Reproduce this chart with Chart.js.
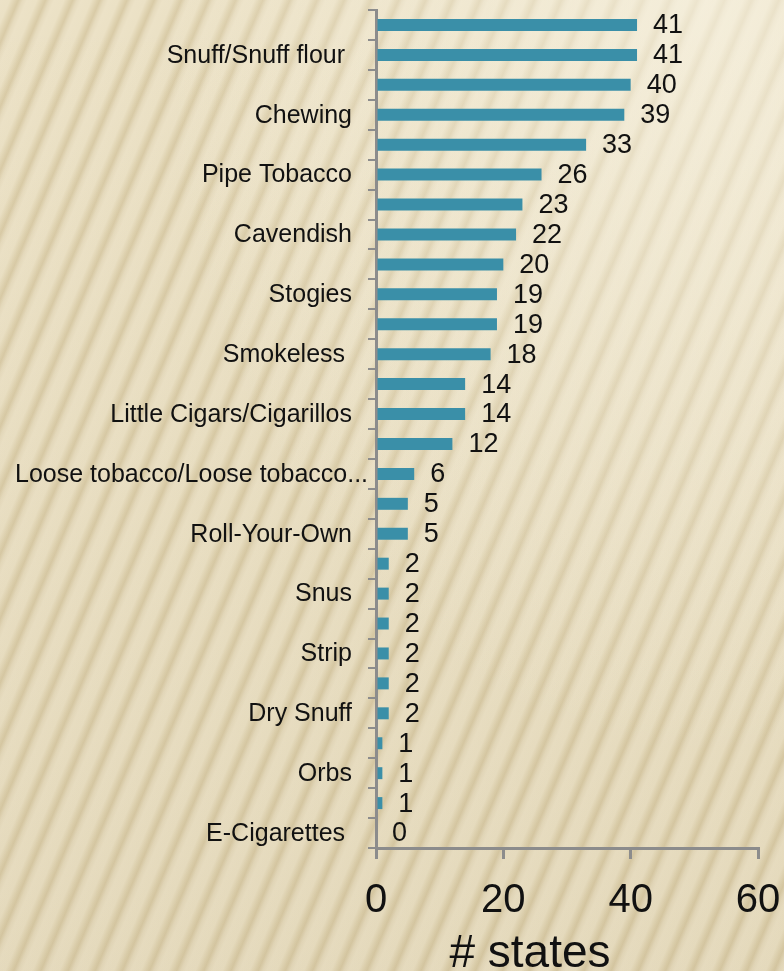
<!DOCTYPE html>
<html>
<head>
<meta charset="utf-8">
<script src="https://cdn.jsdelivr.net/npm/chart.js@4"></script>
<style>
html,body{margin:0;padding:0;}
body{width:784px;height:971px;overflow:hidden;
background:
 radial-gradient(ellipse at 90% 0%, rgba(250,246,232,0.6), rgba(250,246,232,0) 55%),
 linear-gradient(180deg, rgba(0,0,0,0) 0%, rgba(120,95,40,0.06) 100%),
 repeating-linear-gradient(113deg, #ece2c7 0px, #ebe1c5 9px, #ddd0ad 15px, #d9cba7 17px, #e6dbbe 21px, #ece2c7 25px);
}
#wrap{position:absolute;left:0;top:0;width:784px;height:971px;}
</style>
</head>
<body>
<div id="wrap"><canvas id="c" width="784" height="971"></canvas></div>
<script>
const categories = ["", "Snuff/Snuff flour ", "", "Chewing", "", "Pipe Tobacco", "", "Cavendish", "", "Stogies", "", "Smokeless ", "", "Little Cigars/Cigarillos", "", "Loose tobacco/Loose tobacco...", "", "Roll-Your-Own", "", "Snus", "", "Strip", "", "Dry Snuff", "", "Orbs", "", "E-Cigarettes "];
const statesCount = [41, 41, 40, 39, 33, 26, 23, 22, 20, 19, 19, 18, 14, 14, 12, 6, 5, 5, 2, 2, 2, 2, 2, 2, 1, 1, 1, 0];
const xTicks = [0, 20, 40, 60];
const axisTitle = "# states";

const FONT = "'Liberation Sans', Arial, sans-serif";

const textPlugin = {
  id: 'textPlugin',
  afterDatasetsDraw(chart) {
    const ctx = chart.ctx;
    const meta = chart.getDatasetMeta(0);
    const yScale = chart.scales.y;
    ctx.save();
    ctx.fillStyle = "#111";
    // category labels
    ctx.font = "25px " + FONT;
    ctx.textBaseline = "middle";
    ctx.textAlign = "left";
    categories.forEach((lab, i) => {
      if (!lab) return;
      const w = ctx.measureText(lab).width;
      let right = yScale.right - 24;
      if (right - w < 15) right = Math.min(yScale.right - 4, 15 + w);
      ctx.fillText(lab, right - w, yScale.getPixelForValue(i) + 1);
    });
    // value labels
    ctx.font = "27px " + FONT;
    meta.data.forEach((bar, i) => {
      ctx.fillText(String(statesCount[i]), bar.x + 16, bar.y + 1);
    });
    // axis title
    ctx.font = "46px " + FONT;
    ctx.textAlign = "center";
    ctx.textBaseline = "alphabetic";
    ctx.fillText(axisTitle, 530, 967);
    ctx.restore();
  }
};

new Chart(document.getElementById('c'), {
  type: 'bar',
  data: {
    labels: categories,
    datasets: [{
      data: statesCount,
      backgroundColor: '#3a8fa8',
      borderWidth: 0,
      barPercentage: 0.4,
      categoryPercentage: 1.0
    }]
  },
  options: {
    indexAxis: 'y',
    responsive: false,
    animation: false,
    devicePixelRatio: 1,
    layout: { padding: { top: 10, right: 26, left: 0, bottom: 0 } },
    plugins: { legend: { display: false }, tooltip: { enabled: false } },
    scales: {
      x: {
        min: 0, max: 60,
        afterBuildTicks(scale) { scale.ticks = xTicks.map(v => ({ value: v })); },
        afterFit(scale) { scale.height = 123; scale.paddingLeft = 0; scale.paddingRight = 0; },
        border: { display: true, color: '#8c8c8c', width: 3 },
        grid: { drawOnChartArea: false, drawTicks: true, tickLength: 11, color: '#8c8c8c', lineWidth: 3 },
        ticks: { font: { size: 40, family: FONT }, color: '#111', padding: 18, maxRotation: 0 }
      },
      y: {
        afterFit(scale) { scale.width = 376; scale.paddingTop = 0; scale.paddingBottom = 0; },
        border: { display: true, color: '#8c8c8c', width: 3 },
        grid: { drawOnChartArea: false, drawTicks: true, tickLength: 8, color: '#8c8c8c', lineWidth: 2, offset: true },
        ticks: { display: false, autoSkip: false }
      }
    }
  },
  plugins: [textPlugin]
});
</script>
</body>
</html>
